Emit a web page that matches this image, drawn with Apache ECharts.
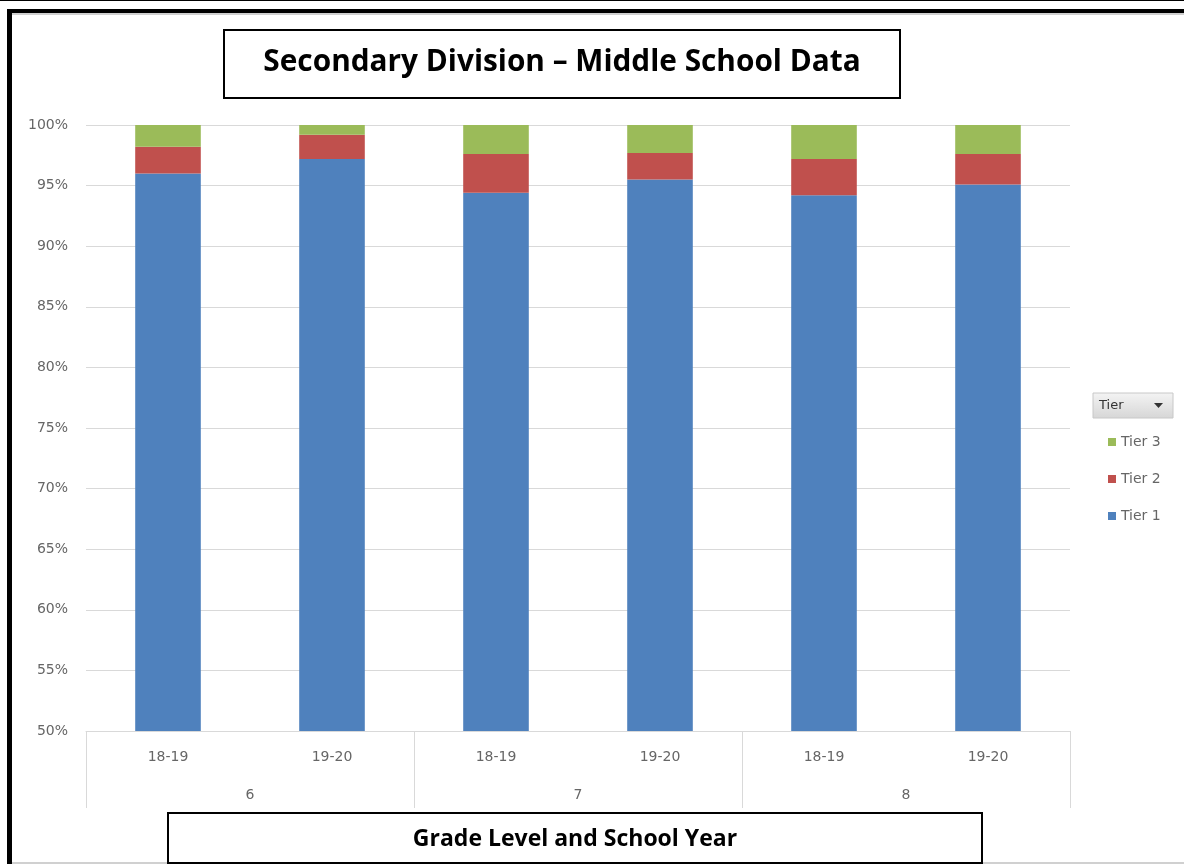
<!DOCTYPE html>
<html>
<head>
<meta charset="utf-8">
<script src="https://cdn.jsdelivr.net/npm/echarts@6/dist/echarts.min.js"></script>
<style>
  html, body { margin: 0; padding: 0; background: #fff; }
  #chart { width: 1184px; height: 864px; }
</style>
</head>
<body>
<div id="chart"></div>
<script>
// Years within each grade (inner axis level) and the grades (outer level)
const schoolYears = ['18-19', '19-20', '18-19', '19-20', '18-19', '19-20'];
const grades = ['6', '7', '8'];

// Share of students in each tier, percent
const tier1 = [96.0, 97.2, 94.4, 95.5, 94.2, 95.1];
const tier2 = [2.2, 2.0, 3.2, 2.2, 3.0, 2.5];
const tier3 = [1.8, 0.8, 2.4, 2.3, 2.8, 2.4];

const seriesNames = ['Tier 1', 'Tier 2', 'Tier 3'];
const legendOrder = ['Tier 3', 'Tier 2', 'Tier 1'];
const colors = ['#4f81bd', '#c0504d', '#9bbb59'];

const labelFont = 'DejaVu Sans';
const labelColor = '#666666';
const titleFont = 'Open Sans';

const chart = echarts.init(document.getElementById('chart'), null, { renderer: 'canvas' });

const seriesData = [tier1, tier2, tier3];

chart.setOption({
  animation: false,
  backgroundColor: '#ffffff',
  color: colors,
  grid: { left: 86, right: 114, top: 125, bottom: 133, containLabel: false },
  legend: {
    data: legendOrder,
    orient: 'vertical',
    left: 1103,
    top: 430,
    icon: 'rect',
    itemWidth: 8,
    itemHeight: 8,
    itemGap: 23,
    textStyle: { fontFamily: labelFont, fontSize: 14, color: labelColor },
    selectedMode: false
  },
  xAxis: [
    {
      type: 'category',
      data: schoolYears,
      position: 'bottom',
      axisLine: { show: false },
      axisTick: { show: false },
      axisLabel: { margin: 19, fontFamily: labelFont, fontSize: 14, color: labelColor }
    },
    {
      type: 'category',
      data: grades,
      position: 'bottom',
      axisLine: { show: true, lineStyle: { color: '#d9d9d9', width: 1 } },
      axisTick: { show: true, length: 77, lineStyle: { color: '#d9d9d9', width: 1 } },
      axisLabel: { margin: 57, fontFamily: labelFont, fontSize: 14, color: labelColor }
    }
  ],
  yAxis: {
    type: 'value',
    min: 50,
    max: 100,
    interval: 5,
    axisLine: { show: false },
    axisTick: { show: false },
    splitLine: { lineStyle: { color: '#d9d9d9', width: 1 } },
    axisLabel: { formatter: '{value}%', margin: 18, fontFamily: labelFont, fontSize: 14, color: labelColor }
  },
  series: seriesNames.map((name, i) => ({
    name: name,
    type: 'bar',
    stack: 'tiers',
    xAxisIndex: 0,
    barCategoryGap: '60%',
    data: seriesData[i],
    itemStyle: { color: colors[i] }
  })),
  graphic: [
    // outer frame
    { type: 'rect', shape: { x: 0, y: 0, width: 1184, height: 1 }, style: { fill: '#000' }, silent: true },
    { type: 'rect', shape: { x: 7, y: 9, width: 1177, height: 4 }, style: { fill: '#000' }, silent: true },
    { type: 'rect', shape: { x: 7, y: 13, width: 1177, height: 2 }, style: { fill: '#cfcfcf' }, silent: true },
    { type: 'rect', shape: { x: 7, y: 9, width: 5, height: 855 }, style: { fill: '#000' }, silent: true },
    { type: 'rect', shape: { x: 12, y: 862, width: 1172, height: 2 }, style: { fill: '#d0d0d0' }, silent: true },
    // chart title box
    {
      type: 'rect',
      shape: { x: 224, y: 30, width: 676, height: 68 },
      style: { fill: '#fff', stroke: '#000', lineWidth: 2 },
      silent: true
    },
    {
      type: 'text',
      x: 562, y: 63,
      style: {
        text: 'Secondary Division – Middle School Data',
        fontFamily: titleFont, fontWeight: 'bold', fontSize: 29.8, fill: '#000',
        textAlign: 'center', textVerticalAlign: 'middle'
      },
      silent: true
    },
    // x-axis title box
    {
      type: 'rect',
      shape: { x: 168, y: 813, width: 814, height: 50 },
      style: { fill: '#fff', stroke: '#000', lineWidth: 2 },
      silent: true
    },
    {
      type: 'text',
      x: 575, y: 839,
      style: {
        text: 'Grade Level and School Year',
        fontFamily: titleFont, fontWeight: 'bold', fontSize: 23, fill: '#000',
        textAlign: 'center', textVerticalAlign: 'middle'
      },
      silent: true
    },
    // legend field button
    {
      type: 'rect',
      shape: { x: 1093, y: 393, width: 80, height: 25 },
      style: {
        fill: new echarts.graphic.LinearGradient(0, 0, 0, 1, [
          { offset: 0, color: '#f4f4f4' },
          { offset: 1, color: '#d6d6d6' }
        ]),
        stroke: '#c8c8c8', lineWidth: 1
      },
      silent: true
    },
    {
      type: 'text',
      x: 1099, y: 406,
      style: {
        text: 'Tier', fontFamily: labelFont, fontSize: 13, fill: '#333',
        textAlign: 'left', textVerticalAlign: 'middle'
      },
      silent: true
    },
    {
      type: 'polygon',
      shape: { points: [[1154, 403], [1163, 403], [1158.5, 408]] },
      style: { fill: '#333' },
      silent: true
    }
  ]
});
</script>
</body>
</html>
